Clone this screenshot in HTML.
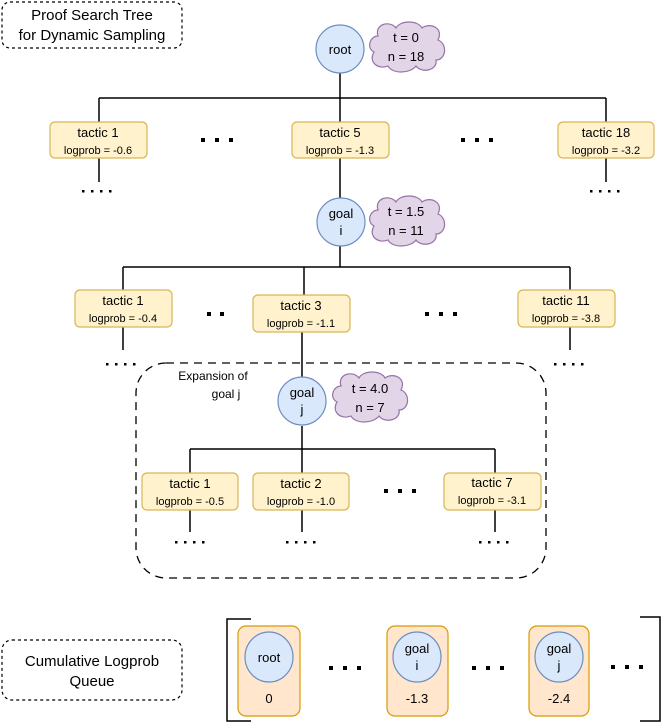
<!DOCTYPE html>
<html><head><meta charset="utf-8"><style>
html,body{margin:0;padding:0;background:#fff;}
svg{display:block;font-family:"Liberation Sans",sans-serif;}
</style></head><body>
<svg width="664" height="728" viewBox="0 0 664 728" xmlns="http://www.w3.org/2000/svg">
<defs>
<g id="cloud">
<path d="M10,14 C6,2 22,-2 28,6 C32,-2 50,-2 54,6 C62,0 76,6 70,18 C80,22 78,38 68,38 C70,48 54,52 48,44 C42,52 24,52 20,44 C10,48 0,40 6,30 C-2,26 2,14 10,14 Z" fill="#e1d5e7" stroke="#9673a6" stroke-width="1.2"/>
</g>
<g id="d4" fill="#000">
<rect x="0" y="0" width="2.5" height="2.5"/><rect x="9" y="0" width="2.5" height="2.5"/><rect x="18" y="0" width="2.5" height="2.5"/><rect x="27" y="0" width="2.5" height="2.5"/>
</g>
</defs>
<g stroke="#000" stroke-width="1.5" fill="none">
<line x1="340" y1="73" x2="340" y2="98"/>
<line x1="99" y1="98" x2="606" y2="98"/>
<line x1="99" y1="98" x2="99" y2="122"/>
<line x1="340" y1="98" x2="340" y2="122"/>
<line x1="606" y1="98" x2="606" y2="122"/>
<line x1="99" y1="158" x2="99" y2="182"/>
<line x1="606" y1="158" x2="606" y2="182"/>
<line x1="340" y1="158" x2="340" y2="198"/>
<line x1="340" y1="246" x2="340" y2="267"/>
<line x1="123" y1="267" x2="570" y2="267"/>
<line x1="123" y1="267" x2="123" y2="290"/>
<line x1="304" y1="267" x2="304" y2="295"/>
<line x1="570" y1="267" x2="570" y2="290"/>
<line x1="123" y1="327" x2="123" y2="350"/>
<line x1="570" y1="327" x2="570" y2="350"/>
<line x1="302" y1="332" x2="302" y2="377"/>
<line x1="302" y1="426" x2="302" y2="449"/>
<line x1="190" y1="449" x2="495" y2="449"/>
<line x1="190" y1="449" x2="190" y2="473"/>
<line x1="302" y1="449" x2="302" y2="473"/>
<line x1="495" y1="449" x2="495" y2="473"/>
<line x1="190" y1="510" x2="190" y2="532"/>
<line x1="302" y1="510" x2="302" y2="532"/>
<line x1="495" y1="510" x2="495" y2="532"/>
</g>
<rect x="2" y="2" width="180" height="46" rx="8" fill="none" stroke="#000" stroke-width="1.2" stroke-dasharray="3,3"/>
<rect x="136" y="363" width="410" height="215" rx="30" fill="none" stroke="#000" stroke-width="1.3" stroke-dasharray="8,6"/>
<rect x="2" y="640" width="180" height="60" rx="10" fill="none" stroke="#000" stroke-width="1.2" stroke-dasharray="3,3"/>
<text x="92" y="20" font-size="15" text-anchor="middle">Proof Search Tree</text>
<text x="92" y="40" font-size="15" text-anchor="middle">for Dynamic Sampling</text>
<text x="92" y="666" font-size="15" text-anchor="middle">Cumulative Logprob</text>
<text x="92" y="686" font-size="15" text-anchor="middle">Queue</text>
<text x="213" y="380" font-size="12" text-anchor="middle">Expansion of</text>
<text x="226" y="398" font-size="12" text-anchor="middle">goal j</text>
<g fill="#dae8fc" stroke="#6c8ebf" stroke-width="1.2">
<ellipse cx="340" cy="49" rx="24" ry="24"/>
<ellipse cx="341" cy="222" rx="24" ry="24"/>
<ellipse cx="302" cy="401" rx="24" ry="24"/>
</g>
<g font-size="13" text-anchor="middle">
<text x="340" y="54">root</text>
<text x="341" y="218">goal</text>
<text x="341" y="235">i</text>
<text x="302" y="397">goal</text>
<text x="302" y="414">j</text>
</g>
<use href="#cloud" transform="translate(368,22)"/>
<use href="#cloud" transform="translate(368,196)"/>
<use href="#cloud" transform="translate(331,372)"/>
<g font-size="13" text-anchor="middle">
<text x="406" y="42">t = 0</text><text x="406" y="61">n = 18</text>
<text x="406" y="216">t = 1.5</text><text x="406" y="235">n = 11</text>
<text x="370" y="393">t = 4.0</text><text x="370" y="412">n = 7</text>
</g>
<g fill="#fff2cc" stroke="#d6b656" stroke-width="1.2">
<rect x="50" y="122" width="97" height="36" rx="5"/>
<rect x="292" y="122" width="97" height="36" rx="5"/>
<rect x="558" y="122" width="96" height="36" rx="5"/>
<rect x="75" y="290" width="97" height="37" rx="5"/>
<rect x="253" y="295" width="97" height="37" rx="5"/>
<rect x="518" y="290" width="97" height="37" rx="5"/>
<rect x="142" y="473" width="96" height="37" rx="5"/>
<rect x="253" y="473" width="96" height="37" rx="5"/>
<rect x="444" y="473" width="97" height="37" rx="5"/>
</g>
<g text-anchor="middle">
<text x="98" y="137" font-size="13">tactic 1</text><text x="98" y="154" font-size="11">logprob = -0.6</text>
<text x="340" y="137" font-size="13">tactic 5</text><text x="340" y="154" font-size="11">logprob = -1.3</text>
<text x="606" y="137" font-size="13">tactic 18</text><text x="606" y="154" font-size="11">logprob = -3.2</text>
<text x="123" y="305" font-size="13">tactic 1</text><text x="123" y="322" font-size="11">logprob = -0.4</text>
<text x="301" y="310" font-size="13">tactic 3</text><text x="301" y="327" font-size="11">logprob = -1.1</text>
<text x="566" y="305" font-size="13">tactic 11</text><text x="566" y="322" font-size="11">logprob = -3.8</text>
<text x="190" y="488" font-size="13">tactic 1</text><text x="190" y="505" font-size="11">logprob = -0.5</text>
<text x="301" y="488" font-size="13">tactic 2</text><text x="301" y="505" font-size="11">logprob = -1.0</text>
<text x="492" y="487" font-size="13">tactic 7</text><text x="492" y="504" font-size="11">logprob = -3.1</text>
</g>
<g fill="#000">
<rect x="201" y="138" width="4" height="4"/><rect x="215" y="138" width="4" height="4"/><rect x="229" y="138" width="4" height="4"/>
<rect x="461" y="138" width="4" height="4"/><rect x="475" y="138" width="4" height="4"/><rect x="489" y="138" width="4" height="4"/>
<rect x="207" y="312" width="4" height="4"/><rect x="220" y="312" width="4" height="4"/>
<rect x="425" y="312" width="4" height="4"/><rect x="439" y="312" width="4" height="4"/><rect x="453" y="312" width="4" height="4"/>
<rect x="384" y="489" width="4" height="4"/><rect x="398" y="489" width="4" height="4"/><rect x="412" y="489" width="4" height="4"/>
<rect x="329" y="666" width="4" height="4"/><rect x="343" y="666" width="4" height="4"/><rect x="357" y="666" width="4" height="4"/>
<rect x="472" y="666" width="4" height="4"/><rect x="486" y="666" width="4" height="4"/><rect x="500" y="666" width="4" height="4"/>
<rect x="611" y="665" width="4" height="4"/><rect x="625" y="665" width="4" height="4"/><rect x="639" y="665" width="4" height="4"/>
</g>
<use href="#d4" x="82" y="190"/><use href="#d4" x="590" y="190"/>
<use href="#d4" x="106" y="363"/><use href="#d4" x="554" y="363"/>
<use href="#d4" x="175" y="541"/><use href="#d4" x="286" y="541"/><use href="#d4" x="479" y="541"/>
<path d="M251,619 H227 V721 H251" fill="none" stroke="#000" stroke-width="1.5"/>
<path d="M640,617 H660 V721 H640" fill="none" stroke="#000" stroke-width="1.5"/>
<g fill="#ffe6cc" stroke="#d79b00" stroke-width="1.2">
<rect x="238" y="626" width="62" height="90" rx="8"/>
<rect x="387" y="626" width="61" height="90" rx="8"/>
<rect x="529" y="626" width="60" height="90" rx="8"/>
</g>
<g fill="#dae8fc" stroke="#6c8ebf" stroke-width="1.2">
<ellipse cx="269" cy="657" rx="24" ry="25"/>
<ellipse cx="417" cy="657" rx="24" ry="25"/>
<ellipse cx="559" cy="657" rx="24" ry="25"/>
</g>
<g font-size="13" text-anchor="middle">
<text x="269" y="662">root</text>
<text x="417" y="653">goal</text><text x="417" y="670">i</text>
<text x="559" y="653">goal</text><text x="559" y="670">j</text>
<text x="269" y="703">0</text>
<text x="417" y="703">-1.3</text>
<text x="559" y="703">-2.4</text>
</g>
</svg>
</body></html>
